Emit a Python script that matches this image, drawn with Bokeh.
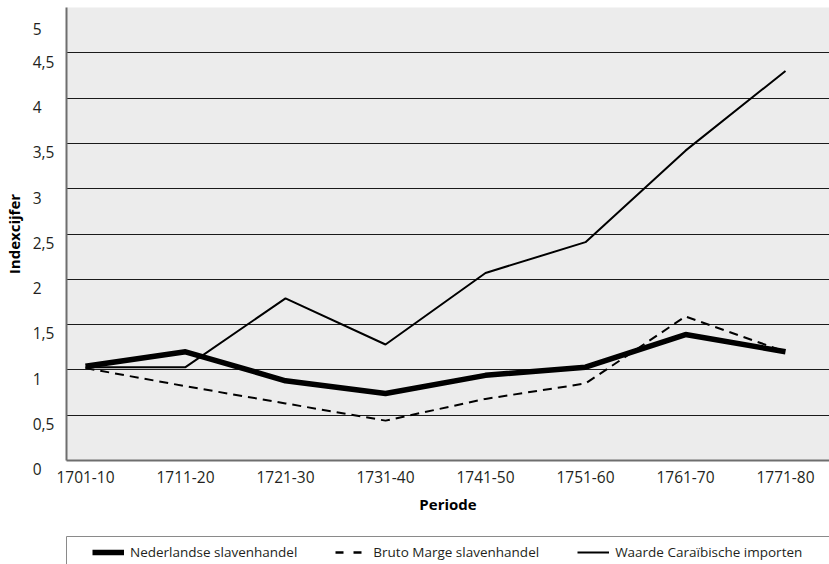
from bokeh.plotting import figure
from bokeh.layouts import column
from bokeh.models import FixedTicker, CustomJSTickFormatter, Legend, LegendItem, Range1d
from bokeh.embed import file_html
from bokeh.resources import INLINE

periods = ["1701-10", "1711-20", "1721-30", "1731-40", "1741-50", "1751-60", "1761-70", "1771-80"]
nederlandse = [1.04, 1.20, 0.88, 0.74, 0.94, 1.03, 1.39, 1.20]
bruto = [1.02, 0.82, 0.63, 0.44, 0.68, 0.85, 1.59, 1.20]
waarde = [1.03, 1.03, 1.79, 1.28, 2.07, 2.41, 3.42, 4.30]
y_ticks = [0, 0.5, 1, 1.5, 2, 2.5, 3, 3.5, 4, 4.5, 5]

x = list(range(len(periods)))
FONT = "Open Sans"
W = 829

p = figure(width=W, height=536, output_backend="svg", toolbar_location=None,
           x_range=Range1d(-0.19, 7.44), y_range=Range1d(0, 5),
           min_border_top=7, min_border_right=0, min_border_left=66, min_border_bottom=76)
p.background_fill_color = "#ececec"
p.border_fill_color = "white"
p.outline_line_color = None

r_w = p.line(x, waarde, line_color="black", line_width=2)
r_n = p.line(x, nederlandse, line_color="black", line_width=5.5)
r_b = p.line(x, bruto, line_color="black", line_width=2, line_dash="9 6")

p.xgrid.grid_line_color = None
p.ygrid.ticker = FixedTicker(ticks=y_ticks)
p.ygrid.grid_line_color = "#1a1a1a"
p.ygrid.grid_line_width = 1

p.xaxis.ticker = FixedTicker(ticks=x)
p.xaxis.formatter = CustomJSTickFormatter(args=dict(labels=periods),
                                          code="return labels[Math.round(tick)] || '';")
p.yaxis.ticker = FixedTicker(ticks=y_ticks)
# leading empty line drops each value label just below its gridline; short labels are
# padded so that all labels start at the same x, as in the original
p.yaxis.formatter = CustomJSTickFormatter(code="""
let s = tick.toString().replace('.', ',');
if (s.length == 1) { s = s + '\\u2008\\u2007'; }
return '\\n' + s;
""")

for ax in (p.xaxis[0], p.yaxis[0]):
    ax.major_tick_line_color = None
    ax.minor_tick_line_color = None
    ax.major_tick_out = 0
    ax.major_tick_in = 0
    ax.axis_line_color = "#6e6e6e"
    ax.axis_line_width = 2
    ax.major_label_text_font = FONT
    ax.major_label_text_font_size = "15.5px"
    ax.major_label_text_color = "#231f20"
    ax.axis_label_text_font = FONT
    ax.axis_label_text_font_size = "15px"
    ax.axis_label_text_font_style = "bold"
    ax.axis_label_text_color = "black"

p.yaxis.axis_label = "Indexcijfer"
p.yaxis.major_label_standoff = 12
p.yaxis.axis_label_standoff = 6
p.yaxis.major_label_text_line_height = 0.8
p.xaxis.axis_label = "Periode"
p.xaxis.major_label_standoff = 10
p.xaxis.axis_label_standoff = 8

# legend strip below the chart; its left and top axis lines form the (cut-off) legend box
lg = figure(width=W, height=28, output_backend="svg", toolbar_location=None,
            x_range=Range1d(0, 1), y_range=Range1d(10, 11),
            x_axis_location="above", y_axis_location="left",
            min_border_top=0, min_border_right=0, min_border_left=66, min_border_bottom=0)
lg.grid.visible = False
lg.outline_line_color = None
lg.background_fill_color = "white"
lg.border_fill_color = "white"
for ax in (lg.xaxis[0], lg.yaxis[0]):
    ax.ticker = FixedTicker(ticks=[])
    ax.major_tick_line_color = None
    ax.minor_tick_line_color = None
    ax.major_tick_out = 0
    ax.major_tick_in = 0
    ax.major_label_standoff = 0
    ax.axis_line_color = "#8a8a8a"
    ax.axis_line_width = 1

# same series, outside this strip's visible range: only their legend glyphs show
k_n = lg.line(x, nederlandse, line_color="black", line_width=5.5)
k_b = lg.line(x, bruto, line_color="black", line_width=2.5, line_dash="8 10")
k_w = lg.line(x, waarde, line_color="black", line_width=2)

legend = Legend(items=[
    LegendItem(label="Nederlandse slavenhandel", renderers=[k_n]),
    LegendItem(label="Bruto Marge slavenhandel", renderers=[k_b]),
    LegendItem(label="Waarde Caraïbische importen", renderers=[k_w]),
], orientation="horizontal", location=(26, 3))
legend.label_text_font = FONT
legend.label_text_font_size = "13.5px"
legend.label_text_color = "#231f20"
legend.glyph_width = 32
legend.glyph_height = 14
legend.label_height = 14
legend.label_standoff = 6
legend.spacing = 38
legend.padding = 0
legend.margin = 0
legend.border_line_color = None
legend.background_fill_alpha = 0
lg.add_layout(legend, "center")

layout = column(p, lg, spacing=0)
open("out.html", "w").write(file_html(layout, INLINE))
